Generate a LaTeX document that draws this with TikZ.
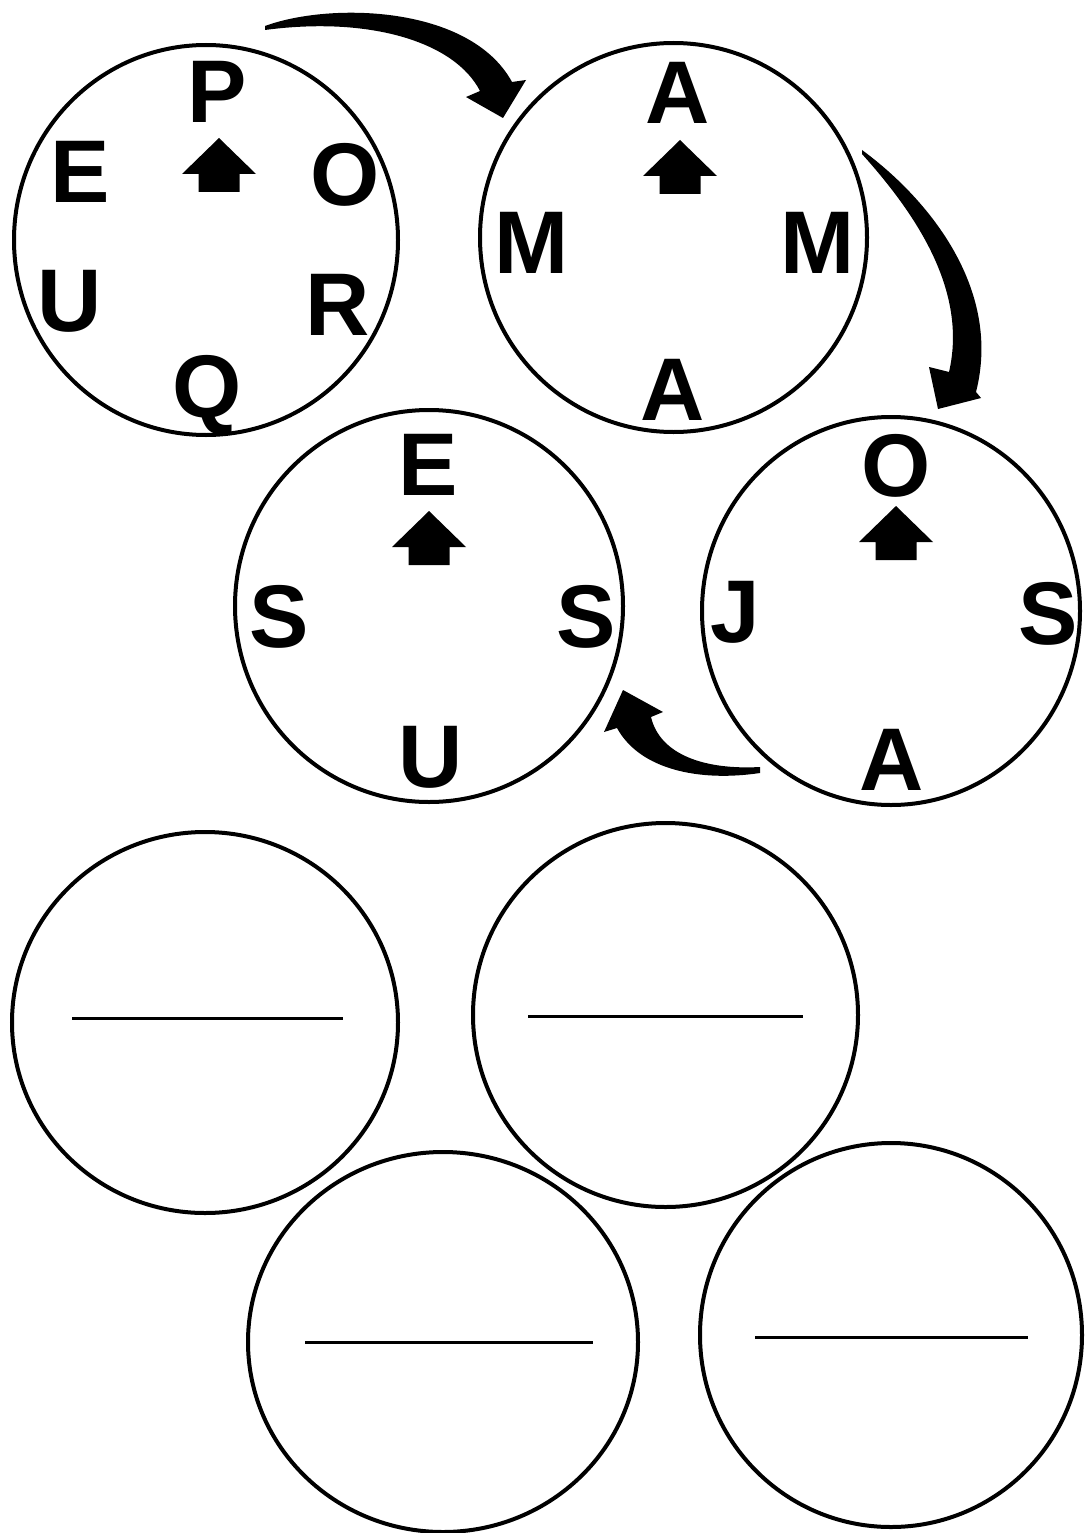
\documentclass[tikz,border=0pt]{standalone}
\usepackage{fontspec}
\setmainfont{Liberation Sans}
\usetikzlibrary{shapes.geometric}
\tikzset{
  ring/.style={ellipse, draw, line width=4pt, inner sep=0pt},
  letter/.style={anchor=base, inner sep=0pt, font=\fontsize{89}{100}\selectfont\bfseries},
  blank/.style={line width=3pt},
  uparr/.pic={\fill (0,0) -- (-37,36) -- (-20.5,36) -- (-20.5,54) -- (20.5,54) -- (20.5,36) -- (37,36) -- cycle;}
}
\begin{document}
\begin{tikzpicture}[x=1pt,y=-1pt]
\useasboundingbox (0,0) rectangle (1084,1533);
\fill[white] (0,0) rectangle (1084,1533);
% top circles
\node[ring, minimum width=384pt, minimum height=390pt] (c1) at (206,240) {};
\node[ring, minimum width=387pt, minimum height=389pt] (c2) at (673.5,237.5) {};
\node[ring, minimum width=388pt, minimum height=392pt] (c3) at (429,606) {};
\node[ring, minimum width=378pt, minimum height=388pt] (c4) at (891,611) {};
% circle 1 letters
\node[letter] (p1) at (217,123) {P};
\node[letter] (e1) at (80,202) {E};
\node[letter] (o1) at (345,206) {O};
\node[letter] (u1) at (70,331) {U};
\node[letter] (r1) at (338,335) {R};
\node[letter] (q1) at (207,417) {Q};
\pic at (219,138) {uparr};
% circle 2 letters
\node[letter] (a2t) at (678,124) {A};
\node[letter] (m2l) at (532,273) {M};
\node[letter] (m2r) at (818,273) {M};
\node[letter] (a2b) at (673,420) {A};
\pic at (680,140) {uparr};
% circle 3 letters
\node[letter] (e3) at (428,495) {E};
\node[letter] (s3l) at (279,647) {S};
\node[letter] (s3r) at (586,647) {S};
\node[letter] (u3) at (431,787) {U};
\pic at (429,511) {uparr};
% circle 4 letters
\node[letter] (o4) at (896,496) {O};
\node[letter] (j4) at (735,642) {J};
\node[letter] (s4) at (1048,644) {S};
\node[letter] (a4) at (892,790) {A};
\pic at (896,506) {uparr};
% curved arrows
\coordinate (a1s) at (265,28);
\coordinate (a1t) at (503,118);
\fill (265,26) .. controls (330,2) and (470,5) .. (512,82) -- (526,80) -- (a1t) -- (466,97) -- (480,91) .. controls (455,42) and (370,16) .. (265,30) -- cycle;
\coordinate (a2s) at (862,152);
\coordinate (a2t) at (938,409);
\fill (862,150) .. controls (930,200) and (1002,290) .. (976,392) -- (981,398) -- (a2t) -- (929,367) -- (949,372) .. controls (968,290) and (915,213) .. (862,154) -- cycle;
\coordinate (a3s) at (760,770);
\coordinate (a3t) at (623,690);
\fill (760,773) .. controls (700,782) and (640,770) .. (617,728) -- (604,732) -- (a3t) -- (663,712) -- (651,717) .. controls (660,755) and (705,770) .. (760,767) -- cycle;
% bottom blank circles
\node[ring, minimum width=386pt, minimum height=381pt] (b1) at (205,1022.5) {};
\node[ring, minimum width=385pt, minimum height=384pt] (b2) at (665.5,1015) {};
\node[ring, minimum width=390pt, minimum height=380pt] (b3) at (443,1342) {};
\node[ring, minimum width=382pt, minimum height=384pt] (b4) at (891,1335) {};
\draw[blank] (72,1018) -- (343,1018);
\draw[blank] (528,1016) -- (803,1016);
\draw[blank] (305,1342) -- (593,1342);
\draw[blank] (755,1337) -- (1028,1337);
\end{tikzpicture}
\end{document}
